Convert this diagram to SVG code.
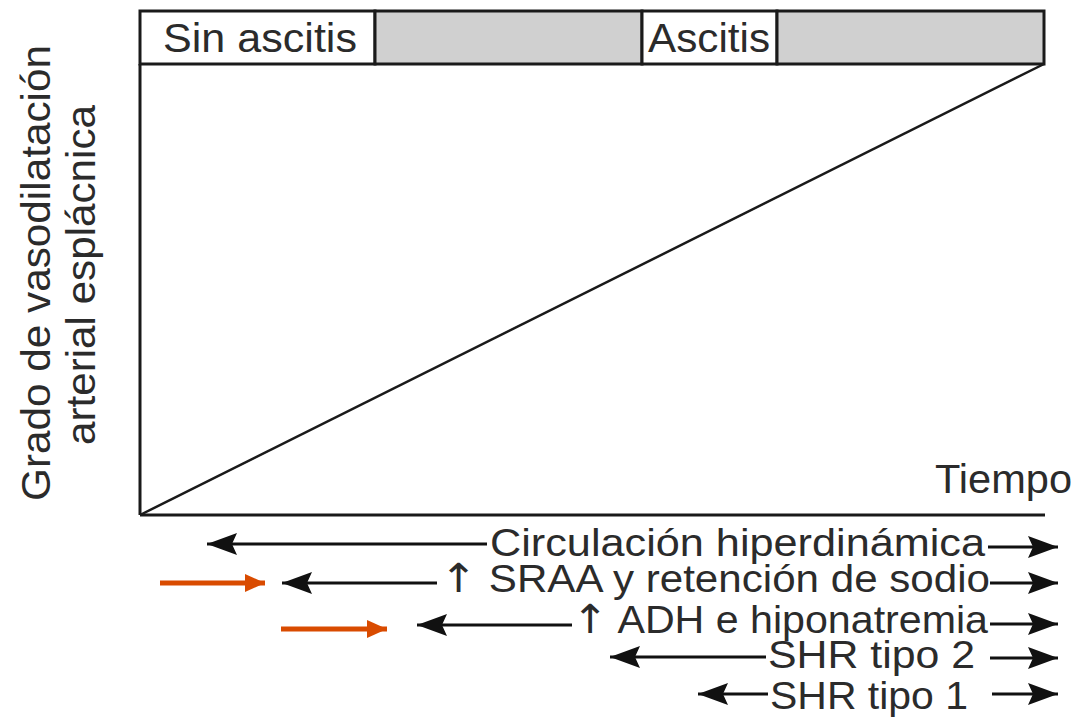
<svg xmlns="http://www.w3.org/2000/svg" width="1075" height="727" viewBox="0 0 1075 727">
  <style>
    .lbl { font-family: "Liberation Sans", Arial, sans-serif; font-size: 41px; fill: #2b2b2b; }
    .row { font-size: 38px; }
    .up { font-family: "DejaVu Sans", sans-serif; font-size: 40px; }
    .frame { fill: none; stroke: #1a1a1a; stroke-width: 3; }
    .cell-w { fill: #ffffff; stroke: #1a1a1a; stroke-width: 3; }
    .cell-g { fill: #d0d0d0; stroke: #1a1a1a; stroke-width: 3; }
    .conn { stroke: #111; stroke-width: 3; fill: none; }
    .conn-l { marker-start: url(#headL); }
    .conn-r { marker-end: url(#headR); }
    .hl { stroke: #d94b00; stroke-width: 5; fill: none; marker-end: url(#headO); }
  </style>
  <defs>
    <marker id="headR" viewBox="0 0 30 22" refX="30" refY="11" markerWidth="30" markerHeight="22" markerUnits="userSpaceOnUse" orient="auto">
      <path d="M0,0 L30,11 L0,22 L5,11 Z" fill="#111"/>
    </marker>
    <marker id="headL" viewBox="0 0 30 22" refX="0" refY="11" markerWidth="30" markerHeight="22" markerUnits="userSpaceOnUse" orient="auto">
      <path d="M30,0 L0,11 L30,22 L25,11 Z" fill="#111"/>
    </marker>
    <marker id="headO" viewBox="0 0 20 18" refX="20" refY="9" markerWidth="20" markerHeight="18" markerUnits="userSpaceOnUse" orient="auto">
      <path d="M0,0 L20,9 L0,18 Z" fill="#d94b00"/>
    </marker>
  </defs>

  <!-- stage bar across the top -->
  <g id="stage-bar">
    <rect class="cell-w" x="140" y="11" width="235" height="53"/>
    <rect class="cell-g" x="375" y="11" width="267" height="53"/>
    <rect class="cell-w" x="642" y="11" width="135" height="53"/>
    <rect class="cell-g" x="777" y="11" width="267" height="53"/>
    <text class="lbl" x="163" y="52" font-size="44" textLength="194" lengthAdjust="spacingAndGlyphs">Sin ascitis</text>
    <text class="lbl" x="648" y="52" font-size="44" textLength="122" lengthAdjust="spacingAndGlyphs">Ascitis</text>
  </g>

  <!-- axes and trend line -->
  <g id="plot">
    <line class="frame" x1="140" y1="64" x2="140" y2="515"/>
    <line class="frame" x1="140" y1="515" x2="1045" y2="515"/>
    <line x1="140" y1="515" x2="1044" y2="64" stroke="#1a1a1a" stroke-width="2.5"/>
  </g>

  <g id="y-axis-label">
    <text class="lbl" transform="translate(50,273) rotate(-90)" text-anchor="middle" textLength="456" lengthAdjust="spacingAndGlyphs">Grado de vasodilatación</text>
    <text class="lbl" transform="translate(95,275) rotate(-90)" text-anchor="middle" textLength="340" lengthAdjust="spacingAndGlyphs">arterial esplácnica</text>
  </g>

  <g id="x-axis-label">
    <text class="lbl" x="935" y="493" textLength="137" lengthAdjust="spacingAndGlyphs">Tiempo</text>
  </g>

  <!-- phase labels -->
  <g id="circulacion">
    <text class="lbl row" x="490" y="556" textLength="495" lengthAdjust="spacingAndGlyphs">Circulación hiperdinámica</text>
  </g>
  <g id="sraa">
    <text class="lbl row" x="440" y="592" textLength="550" lengthAdjust="spacingAndGlyphs"><tspan class="up">↑</tspan> SRAA y retención de sodio</text>
  </g>
  <g id="adh">
    <text class="lbl row" x="572" y="633" textLength="416" lengthAdjust="spacingAndGlyphs"><tspan class="up">↑</tspan> ADH e hiponatremia</text>
  </g>
  <g id="shr2">
    <text class="lbl row" x="768" y="668" textLength="207" lengthAdjust="spacingAndGlyphs">SHR tipo 2</text>
  </g>
  <g id="shr1">
    <text class="lbl row" x="770" y="709" textLength="198" lengthAdjust="spacingAndGlyphs">SHR tipo 1</text>
  </g>

  <!-- span arrows -->
  <g id="connectors">
    <line class="conn conn-l" x1="207" y1="544" x2="487" y2="544"/>
    <line class="conn conn-r" x1="988" y1="547" x2="1058" y2="547"/>

    <line class="conn conn-l" x1="282" y1="583" x2="437" y2="583"/>
    <line class="conn conn-r" x1="990" y1="583" x2="1058" y2="583"/>

    <line class="conn conn-l" x1="417" y1="625" x2="572" y2="625"/>
    <line class="conn conn-r" x1="990" y1="624" x2="1058" y2="624"/>

    <line class="conn conn-l" x1="610" y1="657" x2="766" y2="657"/>
    <line class="conn conn-r" x1="990" y1="658" x2="1058" y2="658"/>

    <line class="conn conn-l" x1="698" y1="694" x2="768" y2="694"/>
    <line class="conn conn-r" x1="992" y1="694" x2="1058" y2="694"/>

    <line class="hl" x1="160" y1="583" x2="265" y2="583"/>
    <line class="hl" x1="281" y1="629" x2="387" y2="629"/>
  </g>
</svg>
